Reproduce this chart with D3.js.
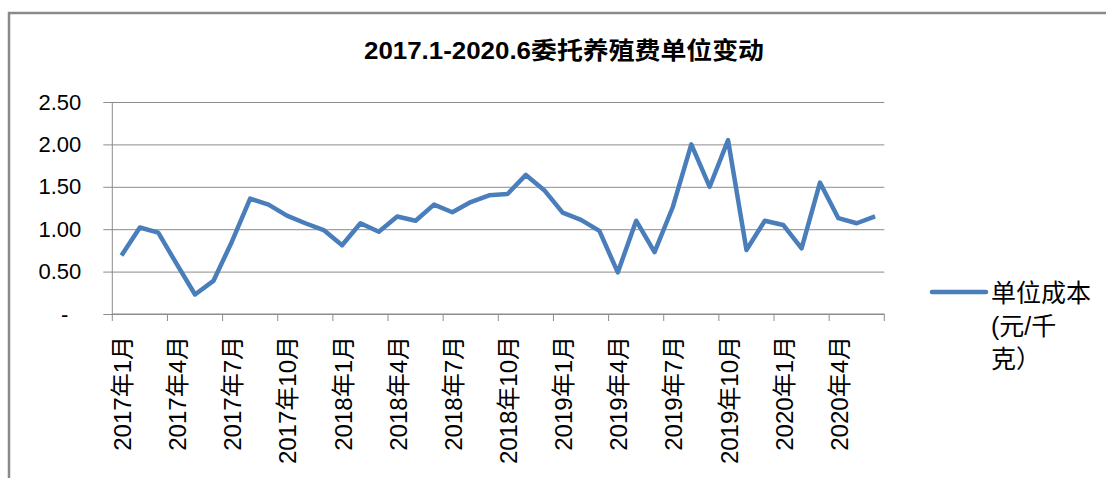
<!DOCTYPE html>
<html>
<head>
<meta charset="utf-8">
<script src="https://cdn.jsdelivr.net/npm/d3@7"></script>
<style>
  body { margin: 0; background: #fff; }
  svg { display: block; }
  text { font-family: "Liberation Sans", "Noto Sans CJK SC", sans-serif; fill: #000; }
</style>
</head>
<body>
<svg id="chart" width="1106" height="478"></svg>
<script>
const titleText = "2017.1-2020.6委托养殖费单位变动";
const seriesName = ["单位成本", "(元/千", "克）"];

// one category per month, 2017.1 .. 2020.6
const months = [];
for (let yr = 2017; yr <= 2020; yr++) {
    for (let m = 1; m <= 12; m++) {
        if (yr === 2020 && m > 6) break;
        months.push(yr + "-" + m);
    }
}

const costs = [0.69, 1.02, 0.96, 0.59, 0.23, 0.39, 0.85, 1.36, 1.29, 1.16,
               1.07, 0.99, 0.81, 1.07, 0.97, 1.15, 1.10, 1.29, 1.20, 1.32,
               1.40, 1.415, 1.64, 1.46, 1.195, 1.11, 0.98, 0.49, 1.10, 0.73,
               1.265, 2.00, 1.50, 2.05, 0.755, 1.10, 1.05, 0.775, 1.55, 1.13,
               1.07, 1.15];

const yTicks = [0, 0.5, 1.0, 1.5, 2.0, 2.5];

const xTickLabels = ["2017年1月", "2017年4月", "2017年7月", "2017年10月",
                     "2018年1月", "2018年4月", "2018年7月", "2018年10月",
                     "2019年1月", "2019年4月", "2019年7月", "2019年10月",
                     "2020年1月", "2020年4月"];

const plotL = 112.3, plotR = 884.3, plotT = 102, plotB = 314;
const lineColor = "#4a7ebb";
const gridColor = "#8c8c8c";

const svg = d3.select("#chart");

// chart frame (only top and left edges are visible in the crop)
svg.append("path")
    .attr("d", "M9,1106 L9,13 L1106,13")
    .attr("fill", "none")
    .attr("stroke", "#8a8a8a")
    .attr("stroke-width", 2.5);

svg.append("text")
    .attr("x", 564)
    .attr("y", 59)
    .attr("text-anchor", "middle")
    .attr("textLength", 400)
    .attr("lengthAdjust", "spacingAndGlyphs")
    .style("font-size", "24px")
    .style("font-weight", "bold")
    .text(titleText);

const x = d3.scaleBand()
    .domain(months)
    .range([plotL, plotR]);

const y = d3.scaleLinear()
    .domain([0, 2.5])
    .range([plotB, plotT]);

// y axis with gridlines
const yAxis = svg.append("g")
    .attr("transform", `translate(${plotL - 9},0)`)
    .call(d3.axisLeft(y)
        .tickValues(yTicks)
        .tickSize(-(plotR - plotL + 9))
        .tickPadding(22)
        .tickFormat(d => d === 0 ? "-" : d.toFixed(2)));
yAxis.select(".domain").remove();
yAxis.selectAll(".tick line")
    .attr("stroke", gridColor)
    .attr("stroke-width", 1);
yAxis.selectAll(".tick text")
    .style("font-size", "22px")
    .style("font-family", "'Liberation Sans', sans-serif")
    .attr("dx", d => d === 0 ? -13 : 0);

svg.append("line")
    .attr("x1", plotL).attr("x2", plotL)
    .attr("y1", plotT).attr("y2", plotB)
    .attr("stroke", gridColor);

// x axis
const tickIdx = d3.range(0, months.length + 1, 3);
const xAxis = svg.append("g");
xAxis.append("line")
    .attr("x1", plotL).attr("x2", plotR)
    .attr("y1", plotB).attr("y2", plotB)
    .attr("stroke", gridColor);
xAxis.selectAll(".xtick")
    .data(tickIdx)
    .enter()
    .append("line")
    .attr("x1", i => i < months.length ? x(months[i]) : x.range()[1])
    .attr("x2", i => i < months.length ? x(months[i]) : x.range()[1])
    .attr("y1", plotB)
    .attr("y2", plotB + 7)
    .attr("stroke", gridColor);

xAxis.selectAll(".xlabel")
    .data(xTickLabels)
    .enter()
    .append("text")
    .attr("transform", (d, i) => {
        const cx = x(months[i * 3]) + x.bandwidth() / 2 + 1;
        return `translate(${cx},336) rotate(-90)`;
    })
    .attr("text-anchor", "end")
    .attr("dominant-baseline", "central")
    .style("font-size", "24px")
    .text(d => d);

// series line
const line = d3.line()
    .x((d, i) => x(months[i]) + x.bandwidth() / 2)
    .y(d => y(d));

svg.append("path")
    .datum(costs)
    .attr("fill", "none")
    .attr("stroke", lineColor)
    .attr("stroke-width", 4.5)
    .attr("stroke-linejoin", "round")
    .attr("d", line);

// legend
svg.append("line")
    .attr("x1", 932).attr("x2", 986)
    .attr("y1", 292).attr("y2", 292)
    .attr("stroke", lineColor)
    .attr("stroke-width", 4.5)
    .attr("stroke-linecap", "round");

svg.append("g")
    .selectAll("text")
    .data(seriesName)
    .enter()
    .append("text")
    .attr("x", 991)
    .attr("y", (d, i) => 293 + i * 33)
    .attr("dominant-baseline", "central")
    .style("font-size", "25px")
    .text(d => d);
</script>
</body>
</html>
